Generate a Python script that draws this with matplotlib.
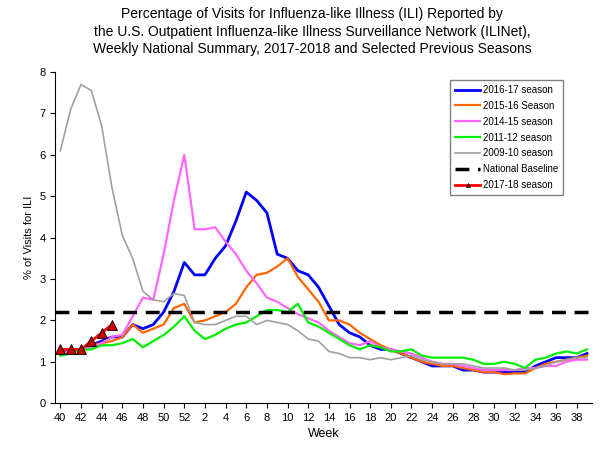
import matplotlib
matplotlib.use('Agg')
import matplotlib.pyplot as plt

plt.rcParams['font.family'] = 'Liberation Sans'

# season weeks 40..52 then 1..39
weeks = list(range(40, 53)) + list(range(1, 40))

s2016_17 = [1.2, 1.25, 1.3, 1.4, 1.5, 1.6, 1.6, 1.9, 1.8, 1.9, 2.2, 2.7, 3.4,
            3.1, 3.1, 3.5, 3.8, 4.4, 5.1, 4.9, 4.6, 3.6, 3.5, 3.2, 3.1, 2.8,
            2.35, 1.9, 1.7, 1.6, 1.4, 1.3, 1.3, 1.2, 1.1, 1.0, 0.9, 0.9, 0.9,
            0.8, 0.8, 0.75, 0.75, 0.75, 0.75, 0.75, 0.9, 1.0, 1.1, 1.1, 1.1, 1.2]
s2015_16 = [1.3, 1.3, 1.3, 1.4, 1.45, 1.5, 1.6, 1.9, 1.7, 1.8, 1.9, 2.3, 2.4,
            1.95, 2.0, 2.1, 2.2, 2.4, 2.8, 3.1, 3.15, 3.3, 3.5, 3.05, 2.75, 2.45,
            2.0, 2.0, 1.9, 1.7, 1.55, 1.4, 1.3, 1.2, 1.1, 1.0, 0.95, 0.9, 0.9,
            0.85, 0.8, 0.75, 0.75, 0.7, 0.72, 0.72, 0.85, 0.95, 1.0, 1.05, 1.1, 1.15]
s2014_15 = [1.2, 1.25, 1.3, 1.35, 1.45, 1.6, 1.65, 2.1, 2.55, 2.5, 3.6, 4.9, 6.0,
            4.2, 4.2, 4.25, 3.9, 3.6, 3.2, 2.9, 2.55, 2.45, 2.3, 2.15, 2.05, 1.95,
            1.75, 1.6, 1.45, 1.4, 1.5, 1.35, 1.3, 1.25, 1.2, 1.1, 1.0, 0.95, 0.95,
            0.9, 0.85, 0.8, 0.8, 0.8, 0.8, 0.85, 0.85, 0.9, 0.9, 1.0, 1.05, 1.05]
s2011_12 = [1.15, 1.2, 1.3, 1.3, 1.4, 1.4, 1.45, 1.55, 1.35, 1.5, 1.65, 1.85, 2.1,
            1.75, 1.55, 1.65, 1.8, 1.9, 1.95, 2.1, 2.25, 2.25, 2.2, 2.4, 1.95, 1.85,
            1.7, 1.55, 1.4, 1.3, 1.4, 1.35, 1.25, 1.25, 1.3, 1.15, 1.1, 1.1, 1.1,
            1.1, 1.05, 0.95, 0.95, 1.0, 0.95, 0.85, 1.05, 1.1, 1.2, 1.25, 1.2, 1.3]
s2009_10 = [6.1, 7.1, 7.7, 7.55, 6.7, 5.2, 4.05, 3.5, 2.7, 2.5, 2.45, 2.65, 2.6,
            1.95, 1.9, 1.9, 2.0, 2.1, 2.1, 1.9, 2.0, 1.95, 1.9, 1.75, 1.55, 1.5,
            1.25, 1.2, 1.1, 1.1, 1.05, 1.1, 1.05, 1.1, 1.15, 1.05, 1.0, 0.95, 0.95,
            0.95, 0.9, 0.85, 0.85, 0.85, 0.8, 0.8, 0.85, 0.9, 1.0, 1.05, 1.1, 1.1]
s2017_18 = [1.3, 1.3, 1.3, 1.5, 1.7, 1.9]
baseline = 2.2

fig = plt.figure(figsize=(6, 4.5), dpi=100)
ax = fig.add_axes([0.092, 0.104, 0.895, 0.736])
x = list(range(len(weeks)))

ax.plot(x, s2016_17, color='#0000FF', lw=2, label='2016-17 season')
ax.plot(x, s2015_16, color='#FF6600', lw=1.6, label='2015-16 Season')
ax.plot(x, s2014_15, color='#FF66FF', lw=1.6, label='2014-15 season')
ax.plot(x, s2011_12, color='#00EE00', lw=1.6, label='2011-12 season')
ax.plot(x, s2009_10, color='#A0A0A0', lw=1.2, label='2009-10 season')
ax.axhline(baseline, color='black', lw=2.5, ls=(0, (4, 2.5)), label='National Baseline')
ax.plot(x[:len(s2017_18)], s2017_18, color='#FF0000', lw=2, marker='^', ms=7,
        mfc='#CC0000', mec='black', mew=0.6, label='2017-18 season')

ax.set_xlim(-0.5, len(weeks) - 0.5)
ax.set_ylim(0, 8)
ax.set_xticks(x[::2])
ax.set_xticklabels([str(w) for w in weeks[::2]], fontsize=8)
ax.tick_params(axis='y', labelsize=8)
ax.set_xlabel('Week', fontsize=9)
ax.set_ylabel('% of Visits for ILI', fontsize=8)
for s in ('top', 'right'):
    ax.spines[s].set_visible(False)

leg = ax.legend(loc='upper right', bbox_to_anchor=(0.955, 0.99), fontsize=7,
                fancybox=False, framealpha=1, edgecolor='gray', handlelength=2.6,
                labelspacing=0.6, markerscale=0.4, handletextpad=0.3, borderpad=0.5)

fig.text(0.52, 0.985, 'Percentage of Visits for Influenza-like Illness (ILI) Reported by\n'
         'the U.S. Outpatient Influenza-like Illness Surveillance Network (ILINet),\n'
         'Weekly National Summary, 2017-2018 and Selected Previous Seasons',
         ha='center', va='top', fontsize=10, linespacing=1.35)

fig.savefig('out.png', dpi=100)
